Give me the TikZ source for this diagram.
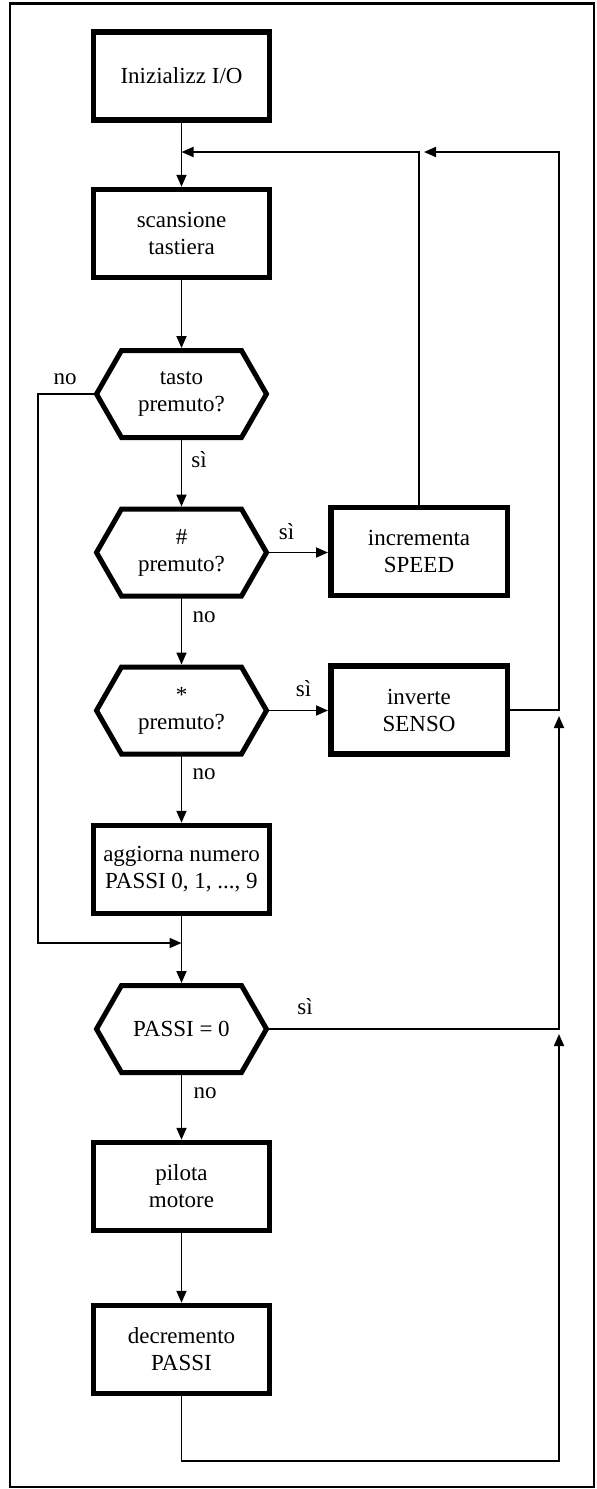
\documentclass[tikz,border=0pt]{standalone}
\usepackage{fontspec}
\setmainfont{Liberation Serif}
\usetikzlibrary{arrows.meta}
\newcommand\fsbig{\fontsize{23}{27}\selectfont}
\newcommand\hexof[1]{\draw[hexline] (#1.west) -- ([xshift=25pt]#1.north west) -- ([xshift=-25pt]#1.north east) -- (#1.east) -- ([xshift=-25pt]#1.south east) -- ([xshift=25pt]#1.south west) -- cycle;}
\begin{document}
\begin{tikzpicture}[x=1pt,y=-1pt,
  box/.style={draw, line width=5.5pt, minimum width=176pt, minimum height=88pt, inner sep=0pt, align=center, font=\fsbig},
  sidebox/.style={box, minimum width=176.5pt, minimum height=88pt},
  hexbox/.style={draw=none, inner sep=0pt, outer sep=0pt, minimum width=170pt, minimum height=87pt, align=center, font=\fsbig},
  hexline/.style={line width=5pt, line join=miter},
  arr/.style={line width=1.8pt, -{Triangle[length=12pt,width=10pt]}},
  frame/.style={line width=2.5pt},
  lbl/.style={inner sep=0pt, font=\fsbig}]
\useasboundingbox (0,0) rectangle (597,1489);
\fill[white] (0,0) rectangle (597,1489);
\draw[frame] (10,3.5) rectangle (594,1487);

% nodes
\node[box] (init) at (181.5,76) {Inizializz I/O};
\node[box] (scan) at (181.5,233.5) {scansione\\tastiera};
\node[hexbox] (tasto) at (181.5,394) {tasto\\premuto?};
\node[hexbox] (hash) at (181.5,552.5) {\#\\premuto?};
\node[hexbox] (star) at (181.5,710.5) {*\\premuto?};
\node[box] (agg) at (181.5,869.5) {aggiorna numero\\PASSI 0, 1, ..., 9};
\node[hexbox] (passi) at (181.5,1029) {PASSI = 0};
\node[box] (pil) at (181.5,1186.5) {pilota\\motore};
\node[box] (decr) at (181.5,1349.5) {decremento\\PASSI};
\node[sidebox] (incr) at (419,551.5) {incrementa\\SPEED};
\node[sidebox] (inv) at (419,710) {inverte\\SENSO};
\hexof{tasto}
\hexof{hash}
\hexof{star}
\hexof{passi}

% coordinates
\coordinate (j1) at (181.5,152);
\coordinate (j2) at (181.5,943);
\coordinate (r1) at (424,152);
\coordinate (a2) at (559,716);
\coordinate (a3) at (559,1034);

% main flow
\draw[arr] (init) -- (scan);
\draw[arr,shorten >=2.5pt] (scan) -- (tasto);
\draw[arr,shorten >=2.5pt] (tasto) -- (hash);
\draw[arr] (hash.east) -- (hash.east -| incr.west);
\draw[arr,shorten >=2.5pt] (hash) -- (star);
\draw[arr] (star.east) -- (star.east -| inv.west);
\draw[arr] (star) -- (agg);
\draw[arr,shorten >=2.5pt] (agg) -- (passi);
\draw[arr] (passi) -- (pil);
\draw[arr] (pil) -- (decr);

% returns
\draw[arr] (incr.north) |- (j1);
\draw[arr] (inv.east) -| (559,152) -- (r1);
\draw[arr] (passi.east) -| (a2);
\draw[arr] (decr.south) |- (559,1461) -- (a3);
\draw[arr] (tasto.west) -- (38,394) |- (j2);

% labels
\node[lbl] (l1) at (65,379.5) {no};
\node[lbl] (l2) at (199,459.5) {sì};
\node[lbl] (l3) at (286.5,532) {sì};
\node[lbl] (l4) at (204,617) {no};
\node[lbl] (l5) at (303.5,689) {sì};
\node[lbl] (l6) at (204,774) {no};
\node[lbl] (l7) at (305,1007) {sì};
\node[lbl] (l8) at (205,1093) {no};
\end{tikzpicture}
\end{document}
